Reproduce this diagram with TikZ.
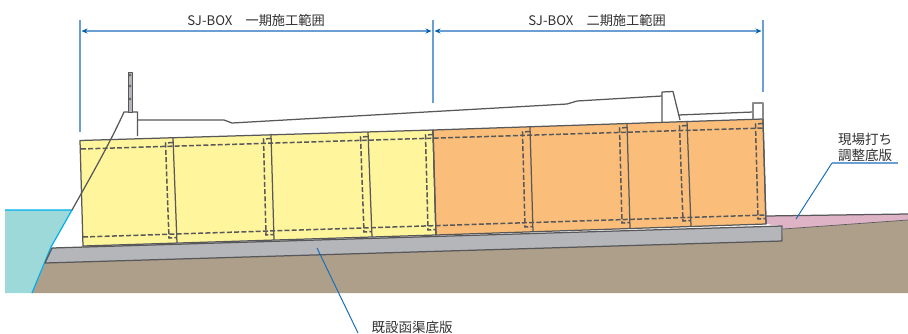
\documentclass[tikz,border=0pt]{standalone}
\usepackage{fontspec}
\setmainfont{Noto Sans CJK JP}
\usetikzlibrary{arrows.meta,positioning}
\definecolor{boxyellow}{HTML}{FFF59D}
\definecolor{boxorange}{HTML}{FBBE7A}
\definecolor{slabgray}{HTML}{B5B6BA}
\definecolor{soilbrown}{HTML}{AE9F8B}
\definecolor{waterteal}{HTML}{9DD9D8}
\definecolor{watercyan}{HTML}{00AEEF}
\definecolor{padpink}{HTML}{DFB3C6}
\definecolor{dimblue}{HTML}{6A9FD4}
\definecolor{tipblue}{HTML}{0060AE}
\definecolor{leadblue}{HTML}{1A6FB9}
\definecolor{inkgray}{HTML}{58585A}
\definecolor{textgray}{HTML}{303032}

\begin{document}
\begin{tikzpicture}[
    x=1pt, y=-1pt,
    outline/.style={draw=inkgray, line width=1.25pt, line join=round},
    joint/.style={draw=inkgray, line width=1.5pt, dash pattern=on 5pt off 2.2pt},
    guide/.style={draw=dimblue, line width=1.4pt},
    dimarrow/.style={draw=dimblue, line width=1.4pt, shorten <=1.5pt, shorten >=1.5pt,
        {Stealth[length=6pt,width=5pt,color=tipblue]}-{Stealth[length=6pt,width=5pt,color=tipblue]}},
    leader/.style={draw=leadblue, line width=1pt},
    label/.style={text=textgray, font=\fontsize{13.5}{16}\selectfont, inner sep=0pt, align=center}
]
\useasboundingbox (0,0) rectangle (908,333);

% Ground and water
\fill[soilbrown] (32,293) -- (45,263) -- (782,241) -- (783,229) -- (908,220) -- (908,293) -- cycle;
\fill[padpink] (766,216) -- (908,214) -- (908,220) -- (783,229) -- (782,226) -- (766,224) -- cycle;
\draw[outline] (766,216) -- (908,214);
\draw[outline, line width=0.7pt] (783,229) -- (908,220);
\fill[waterteal] (5,210) -- (72,210) -- (51,247) -- (32,293) -- (5,293) -- cycle;
\draw[watercyan, line width=1.2pt] (5,210) -- (72,210) -- (51,247) -- (32,293);

% Existing slab
\draw[outline, fill=slabgray] (52,248) -- (782,226) -- (782,241) -- (45,263) -- cycle;

% Boxes
\draw[outline, fill=boxyellow] (80,140.5) -- (433,130) -- (436,235) -- (83,246) -- cycle;
\draw[outline, fill=boxorange] (433,130) -- (763,119) -- (766,224) -- (436,235) -- cycle;

% Dashed joints
\draw[joint] (81,149) -- (763,128);
\draw[joint] (83,237) -- (765,215);
\foreach \xt/\yt/\xb/\yb in {173/138/177/243, 271/134/274/240, 368/132/372/237, 433/130/436/235,
    530/127/533/232, 627/123/630/228, 687/121/691/226, 763/119/766/224} {
    \draw[joint] (\xt,\yt+4.5) -- (\xt-7.5,\yt+5) -- (\xb-8,\yb-5) -- (\xb,\yb-5.5);
    \draw[outline] (\xt,\yt) -- (\xb,\yb);
}

% Road and parapets
\draw[outline] (72,210) .. controls (90,178) and (110,143) .. (124,112) -- (137.5,112) -- (137.5,136);
\draw[outline] (138,120) -- (224,120) -- (232,123) -- (567,104) -- (577,101) -- (662,96);
\draw[outline] (662,122) -- (662,92) -- (673,91.5) -- (680,120);
\draw[outline] (678,115) -- (753,112);
\draw[outline, draw=inkgray!70] (753,119) -- (753,103) -- (763,103) -- (763,119);

% Fence post
\draw[outline, fill=slabgray, line width=0.8pt] (128.5,72) rectangle (132,112);
\foreach \yy in {75,86,99} {
    \draw[inkgray, line width=0.6pt, fill=white] (130.2,\yy) circle (1.1);
}

% Dimensions
\coordinate (dimA) at (80,31);
\coordinate (dimB) at (433,31);
\coordinate (dimC) at (763,31);
\coordinate (endA) at (80,132);
\coordinate (endB) at (433,103);
\coordinate (endC) at (763,92);
\draw[guide] (80,20) -- (endA);
\draw[guide] (433,20) -- (endB);
\draw[guide] (763,20) -- (endC);
\draw[dimarrow] (dimA) -- (dimB);
\draw[dimarrow] (dimB) -- (dimC);

% Labels
\node[label, font=\fontsize{13.2}{16}\selectfont] (stage1) at (256,20) {SJ-BOX　一期施工範囲};
\node[label, font=\fontsize{13.2}{16}\selectfont] (stage2) at (597,20) {SJ-BOX　二期施工範囲};
\node[label] (padtext) at (865,147) {現場打ち\\調整底版};
\node[label] (slabtext) at (412,327) {既設函渠底版};

% Leaders
\coordinate (padtip) at (796,219);
\coordinate (padbend) at (832,163);
\coordinate (padend) at (898,163);
\coordinate (slabtip) at (317,248);
\coordinate (slabend) at (358,333);
\draw[leader] (padtip) -- (padbend);
\draw[guide] (padbend) -- (padend);
\draw[leader] (slabtip) -- (slabend);
\end{tikzpicture}
\end{document}
